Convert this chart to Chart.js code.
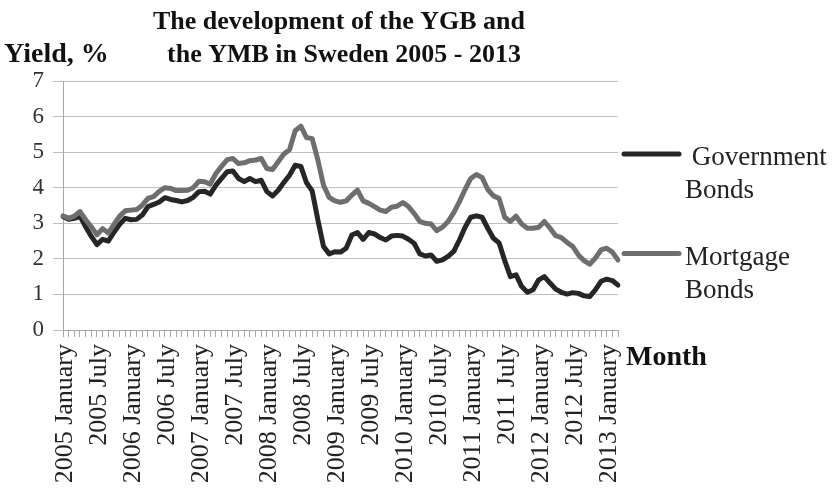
<!DOCTYPE html>
<html>
<head>
<meta charset="utf-8">
<script src="https://cdn.jsdelivr.net/npm/chart.js@4"></script>
<style>
  body { margin: 0; background: #fff; }
  #wrap { width: 835px; height: 488px; }
</style>
</head>
<body>
<div id="wrap"><canvas id="yieldChart" width="835" height="488"></canvas></div>
<script>
const monthNames = ['January', 'February', 'March', 'April', 'May', 'June', 'July',
  'August', 'September', 'October', 'November', 'December'];
const firstYear = 2005;
const monthCount = 99; // 2005 January .. 2013 March

const months = [];
for (let i = 0; i < monthCount; i++) {
  months.push((firstYear + Math.floor(i / 12)) + ' ' + monthNames[i % 12]);
}

const govBonds = [
  3.19, 3.11, 3.14, 3.20, 2.90, 2.63, 2.40, 2.55, 2.50, 2.75, 2.97, 3.14,
  3.10, 3.11, 3.23, 3.47, 3.53, 3.60, 3.72, 3.67, 3.64, 3.60, 3.64, 3.73,
  3.89, 3.90, 3.82, 4.07, 4.26, 4.45, 4.47, 4.26, 4.17, 4.26, 4.17, 4.21,
  3.89, 3.77, 3.93, 4.15, 4.35, 4.63, 4.60, 4.14, 3.91, 3.10, 2.35, 2.14,
  2.20, 2.19, 2.30, 2.67, 2.74, 2.55, 2.74, 2.70, 2.60, 2.53, 2.64, 2.66,
  2.64, 2.55, 2.44, 2.14, 2.08, 2.11, 1.93, 1.97, 2.07, 2.21, 2.53, 2.89,
  3.17, 3.21, 3.17, 2.86, 2.58, 2.45, 1.95, 1.50, 1.55, 1.22, 1.06, 1.13,
  1.41, 1.50, 1.32, 1.15, 1.06, 1.01, 1.05, 1.03, 0.96, 0.94, 1.13, 1.37,
  1.43, 1.39, 1.26
];

const mortgageBonds = [
  3.21, 3.14, 3.20, 3.33, 3.10, 2.90, 2.68, 2.85, 2.73, 2.97, 3.20, 3.35,
  3.37, 3.39, 3.51, 3.70, 3.75, 3.90, 4.00, 3.98, 3.92, 3.92, 3.93, 4.00,
  4.18, 4.17, 4.10, 4.40, 4.60, 4.79, 4.82, 4.68, 4.70, 4.76, 4.78, 4.82,
  4.54, 4.51, 4.73, 4.95, 5.07, 5.60, 5.73, 5.41, 5.38, 4.78, 4.07, 3.73,
  3.63, 3.59, 3.63, 3.79, 3.93, 3.63, 3.56, 3.47, 3.37, 3.33, 3.45, 3.48,
  3.58, 3.47, 3.28, 3.05, 3.00, 2.98, 2.79, 2.89, 3.05, 3.30, 3.61, 3.95,
  4.26, 4.37, 4.29, 3.95, 3.77, 3.70, 3.17, 3.05, 3.20, 2.98, 2.86, 2.86,
  2.89, 3.05, 2.86, 2.65, 2.60, 2.46, 2.35, 2.11, 1.95, 1.85, 2.02, 2.25,
  2.30, 2.19, 1.97
];

const yTicks = [0, 1, 2, 3, 4, 5, 6, 7];

const serif = '"Liberation Serif", "Times New Roman", serif';
const govColor = '#262626';
const mortColor = '#6e6e6e';

// title, axis captions and the two-line legend on the right
const extras = {
  id: 'extras',
  afterDraw(chart) {
    const c = chart.ctx;
    const area = chart.chartArea;
    const yScale = chart.scales.y;
    c.save();
    c.fillStyle = '#111';
    c.textBaseline = 'alphabetic';
    c.font = 'bold 26px ' + serif;
    c.textAlign = 'center';
    c.fillText('The development of the YGB and', 339, 29);
    c.fillText('the YMB in Sweden 2005 - 2013', 344, 62);
    c.textAlign = 'left';
    c.font = 'bold 28px ' + serif;
    c.fillText('Yield, %', 4, 62);
    c.fillText('Month', 626, 365);

    c.lineWidth = 5;
    c.lineCap = 'round';
    const legend = [
      { color: govColor, y: yScale.getPixelForValue(4.95), lines: [[' Government', 685], ['Bonds', 685]] },
      { color: mortColor, y: yScale.getPixelForValue(2.15), lines: [['Mortgage', 685], ['Bonds', 685]] }
    ];
    c.font = '27px ' + serif;
    c.fillStyle = '#222';
    legend.forEach(item => {
      c.strokeStyle = item.color;
      c.beginPath();
      c.moveTo(area.right + 6, item.y);
      c.lineTo(area.right + 61, item.y);
      c.stroke();
      item.lines.forEach((ln, k) => {
        c.fillText(ln[0], ln[1], item.y + 11 + k * 33);
      });
    });
    c.restore();
  }
};

new Chart(document.getElementById('yieldChart').getContext('2d'), {
  type: 'line',
  data: {
    labels: months,
    datasets: [
      {
        label: 'Mortgage Bonds',
        data: mortgageBonds,
        borderColor: mortColor,
        borderWidth: 5,
        pointRadius: 0,
        tension: 0,
        borderJoinStyle: 'round',
        borderCapStyle: 'round'
      },
      {
        label: 'Government Bonds',
        data: govBonds,
        borderColor: govColor,
        borderWidth: 5,
        pointRadius: 0,
        tension: 0,
        borderJoinStyle: 'round',
        borderCapStyle: 'round'
      }
    ]
  },
  options: {
    responsive: false,
    animation: false,
    layout: { padding: { top: 81, right: 217, left: 0, bottom: 0 } },
    plugins: {
      legend: { display: false },
      title: { display: false },
      tooltip: { enabled: false }
    },
    scales: {
      x: {
        type: 'category',
        offset: false,
        afterFit(scale) { scale.height = 158; },
        border: { color: '#a6a6a6', width: 1 },
        grid: { drawOnChartArea: false, color: '#a6a6a6', tickLength: 7 },
        ticks: {
          autoSkip: false,
          minRotation: 90,
          maxRotation: 90,
          padding: 7,
          labelOffset: 2,
          color: '#222',
          font: { family: serif, size: 26 },
          callback(value, index) {
            const m = index % 12;
            return (m === 0 || m === 6) ? months[index] : '';
          }
        }
      },
      y: {
        min: 0,
        max: 7,
        afterFit(scale) { scale.width = 63; },
        afterBuildTicks(scale) { scale.ticks = yTicks.map(v => ({ value: v })); },
        border: { color: '#a6a6a6', width: 1 },
        grid: { color: '#bfbfbf', tickLength: 10 },
        ticks: {
          padding: 9,
          color: '#333',
          font: { family: serif, size: 23 }
        }
      }
    }
  },
  plugins: [extras]
});
</script>
</body>
</html>
